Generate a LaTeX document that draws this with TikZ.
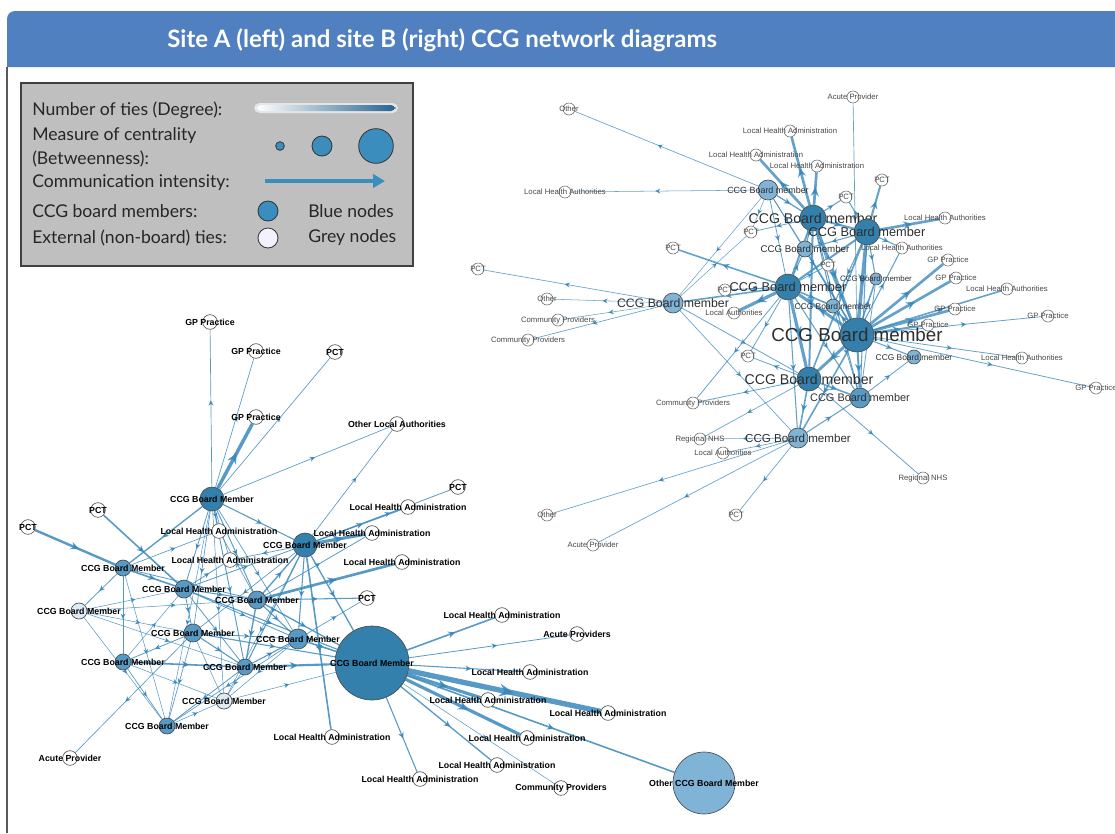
\documentclass[tikz,border=0pt]{standalone}
\usepackage{fontspec}
\setmainfont{Lato}
\setsansfont{Liberation Sans}
\usetikzlibrary{arrows.meta,decorations.markings}
\definecolor{hdr}{RGB}{80,128,192}
\definecolor{lgfill}{RGB}{191,191,191}
\definecolor{lgblue}{RGB}{58,141,189}
\definecolor{ndark}{RGB}{52,128,172}
\definecolor{nmid}{RGB}{88,154,198}
\definecolor{nlight}{RGB}{128,180,214}
\definecolor{npale}{RGB}{222,234,244}
\definecolor{ecol}{RGB}{58,136,188}
\definecolor{gbar}{RGB}{40,100,145}
\pgfdeclarelayer{edges}
\pgfsetlayers{edges,main}
\tikzset{
  ext/.style={circle, draw=black!65, fill=white, line width=0.5pt, inner sep=0pt, minimum size=11pt},
  extr/.style={circle, draw=black!55, fill=white, line width=0.45pt, inner sep=0pt, minimum size=9pt},
  ccg/.style={circle, draw=black!70, line width=0.5pt, inner sep=0pt},
  la/.style={font=\fontsize{6.6}{7}\selectfont\sffamily\bfseries, text=black},
  lr/.style={font=\fontsize{5.8}{6}\selectfont\sffamily, text=black!72},
  lbig/.style={font=\fontsize{#1}{#1}\selectfont\sffamily, text=black!82},
  edgel/.style={draw=ecol, draw opacity=0.85, postaction={decorate},
    decoration={markings, mark=at position 0.55 with {\arrow[ecol]{Stealth[length=3pt 2, width=3pt 1.6]}}}},
  edger/.style={draw=ecol, draw opacity=0.78, postaction={decorate},
    decoration={markings, mark=at position 0.55 with {\arrow[ecol]{Stealth[length=3pt 2, width=3pt 1.6]}}}},
  legtxt/.style={anchor=west, font=\fontsize{13.2}{15}\selectfont, text=black!85, inner sep=0pt},
}
\begin{document}
\begin{tikzpicture}[x=0.75pt,y=-0.75pt]
\useasboundingbox (0,0) rectangle (1115,833);
% header
\fill[hdr] (7,67) [rounded corners=6pt] -- (7,11) [sharp corners] -- (1115,11) -- (1115,67) -- cycle;
\node[anchor=west, text=white, font=\fontsize{18}{20}\selectfont\bfseries, inner sep=0pt] (title) at (167,40) {Site A (left) and site B (right) CCG network diagrams};
\draw[line width=1.5pt, black!65] (7,67) -- (7,833);
% legend
\draw[fill=lgfill, draw=black!75, line width=1.2pt] (21,83) rectangle (413,266);
\node[legtxt] (l1) at (32,110) {Number of ties (Degree):};
\node[legtxt] (l2) at (32,136) {Measure of centrality};
\node[legtxt] (l3) at (32,159) {(Betweenness):};
\node[legtxt] (l4) at (32,183) {Communication intensity:};
\node[legtxt] (l5) at (32,211) {CCG board members:};
\node[legtxt] (l6) at (32,238) {External (non-board) ties:};
\node[legtxt] (l7) at (308,211) {Blue nodes};
\node[legtxt] (l8) at (308,238) {Grey nodes};
\fill[white, opacity=0.6, rounded corners=4pt] (254,103) rectangle (398,113);
\shade[left color=white, right color=gbar, rounded corners=3pt] (257,105) rectangle (395,111);
\node[circle, fill=lgblue, draw=black!80, line width=0.6pt, inner sep=0pt, minimum size=6.5pt] (c1) at (280,146) {};
\node[circle, fill=lgblue, draw=black!80, line width=0.6pt, inner sep=0pt, minimum size=15pt] (c2) at (322,146) {};
\node[circle, fill=lgblue, draw=black!80, line width=0.6pt, inner sep=0pt, minimum size=26pt] (c3) at (376,146) {};
\coordinate (ar1) at (265,181);
\coordinate (ar2) at (385,181);
\draw[lgblue, line width=3.6pt, -{Triangle[length=9pt,width=10pt]}] (ar1) -- (ar2);
\node[circle, fill=lgblue, draw=black!80, line width=0.6pt, inner sep=0pt, minimum size=15pt] (c4) at (268,211) {};
\node[circle, fill=white!95!blue, draw=black!80, line width=0.6pt, inner sep=0pt, minimum size=15pt] (c5) at (268,238) {};

% ---------- Site A ----------
\node[ccg, fill=ndark, minimum size=18pt, label={[la]center:CCG Board Member}] (a1) at (212,499) {};
\node[ccg, fill=ndark, minimum size=18pt, label={[la]center:CCG Board Member}] (a2) at (305,545) {};
\node[ccg, fill=nmid, minimum size=12pt, label={[la]center:CCG Board Member}] (a3) at (123,568) {};
\node[ccg, fill=nmid, minimum size=13.5pt, label={[la]center:CCG Board Member}] (a4) at (184,589) {};
\node[ccg, fill=nmid, minimum size=13.5pt, label={[la]center:CCG Board Member}] (a5) at (257,600) {};
\node[ccg, fill=npale, minimum size=12pt, label={[la]center:CCG Board Member}] (a6) at (79,611) {};
\node[ccg, fill=nmid, minimum size=13.5pt, label={[la]center:CCG Board Member}] (a7) at (193,633) {};
\node[ccg, fill=nmid, minimum size=15pt, label={[la]center:CCG Board Member}] (a8) at (298,639) {};
\node[ccg, fill=ndark, minimum size=55.5pt, label={[la]center:CCG Board Member}] (a9) at (372,663) {};
\node[ccg, fill=nmid, minimum size=12pt, label={[la]center:CCG Board Member}] (a10) at (123,662) {};
\node[ccg, fill=nmid, minimum size=12pt, label={[la]center:CCG Board Member}] (a11) at (245,667) {};
\node[ccg, fill=npale, minimum size=12pt, label={[la]center:CCG Board Member}] (a12) at (224,701) {};
\node[ccg, fill=nmid, minimum size=12pt, label={[la]center:CCG Board Member}] (a13) at (167,726) {};
\node[ccg, fill=nlight, minimum size=46.5pt, label={[la]center:Other CCG Board Member}] (a14) at (704,783) {};

\node[ext, label={[la]center:GP Practice}] (e1) at (210,322) {};
\node[ext, label={[la]center:GP Practice}] (e2) at (256,351) {};
\node[ext, label={[la]center:PCT}] (e3) at (335,352) {};
\node[ext, label={[la]center:GP Practice}] (e4) at (256,417) {};
\node[ext, label={[la]center:Other Local Authorities}] (e5) at (397,424) {};
\node[ext, label={[la]center:PCT}] (e6) at (458,487) {};
\node[ext, label={[la]center:PCT}] (e7) at (98,510) {};
\node[ext, label={[la]center:Local Health Administration}] (e8) at (408,507) {};
\node[ext, label={[la]center:PCT}] (e9) at (28,527) {};
\node[ext, label={[la]center:Local Health Administration}] (e10) at (219,531) {};
\node[ext, label={[la]center:Local Health Administration}] (e11) at (372,533) {};
\node[ext, label={[la]center:Local Health Administration}] (e12) at (230,560) {};
\node[ext, label={[la]center:Local Health Administration}] (e13) at (402,562) {};
\node[ext, label={[la]center:PCT}] (e14) at (367,598) {};
\node[ext, label={[la]center:Local Health Administration}] (e15) at (502,615) {};
\node[ext, label={[la]center:Acute Providers}] (e16) at (577,634) {};
\node[ext, label={[la]center:Local Health Administration}] (e17) at (530,672) {};
\node[ext, label={[la]center:Local Health Administration}] (e18) at (488,700) {};
\node[ext, label={[la]center:Local Health Administration}] (e19) at (608,713) {};
\node[ext, label={[la]center:Local Health Administration}] (e20) at (332,737) {};
\node[ext, label={[la]center:Local Health Administration}] (e21) at (527,738) {};
\node[ext, label={[la]center:Acute Provider}] (e22) at (70,758) {};
\node[ext, label={[la]center:Local Health Administration}] (e23) at (497,765) {};
\node[ext, label={[la]center:Local Health Administration}] (e24) at (420,779) {};
\node[ext, label={[la]center:Community Providers}] (e25) at (561,788) {};

% ---------- Site B ----------
\node[ccg, fill=nlight, minimum size=15pt, label={[lbig=6.7]center:CCG Board member}] (b1) at (768,190) {};
\node[ccg, fill=ndark, minimum size=19.5pt, label={[lbig=10.6]center:CCG Board member}] (b2) at (813,218) {};
\node[ccg, fill=ndark, minimum size=19.5pt, label={[lbig=9.6]center:CCG Board member}] (b3) at (867,232) {};
\node[ccg, fill=nlight, minimum size=12pt, label={[lbig=7.3]center:CCG Board member}] (b4) at (805,249) {};
\node[ccg, fill=nlight, minimum size=9pt, label={[lbig=5.9]center:CCG Board member}] (b5) at (876,279) {};
\node[ccg, fill=ndark, minimum size=19.5pt, label={[lbig=9.6]center:CCG Board member}] (b6) at (788,287) {};
\node[ccg, fill=nlight, minimum size=15pt, label={[lbig=9.2]center:CCG Board member}] (b7) at (673,303) {};
\node[ccg, fill=nlight, minimum size=10.5pt, label={[lbig=6.3]center:CCG Board member}] (b8) at (833,306) {};
\node[ccg, fill=ndark, minimum size=25.5pt, label={[lbig=14.1]center:CCG Board member}] (b9) at (857,335) {};
\node[ccg, fill=nlight, minimum size=10.5pt, label={[lbig=6.3]center:CCG Board member}] (b10) at (914,357) {};
\node[ccg, fill=ndark, minimum size=18pt, label={[lbig=10.6]center:CCG Board member}] (b11) at (809,379) {};
\node[ccg, fill=nmid, minimum size=15pt, label={[lbig=8.2]center:CCG Board member}] (b12) at (860,398) {};
\node[ccg, fill=nlight, minimum size=15pt, label={[lbig=8.7]center:CCG Board member}] (b13) at (798,438) {};

\node[extr, label={[lr]center:Other}] (f1) at (569,109) {};
\node[extr, label={[lr]center:Acute Provider}] (f2) at (853,97) {};
\node[extr, label={[lr]center:Local Health Administration}] (f3) at (790,131) {};
\node[extr, label={[lr]center:Local Health Administration}] (f4) at (756,155) {};
\node[extr, label={[lr]center:Local Health Administration}] (f5) at (817,166) {};
\node[extr, label={[lr]center:PCT}] (f6) at (882,180) {};
\node[extr, label={[lr]center:Local Health Authorities}] (f7) at (565,192) {};
\node[extr, label={[lr]center:PCT}] (f8) at (846,197) {};
\node[extr, label={[lr]center:PCT}] (f9) at (751,232) {};
\node[extr, label={[lr]center:Local Health Authorities}] (f10) at (945,218) {};
\node[extr, label={[lr]center:Local Health Authorities}] (f11) at (902,248) {};
\node[extr, label={[lr]center:PCT}] (f12) at (673,248) {};
\node[extr, label={[lr]center:PCT}] (f13) at (828,265) {};
\node[extr, label={[lr]center:GP Practice}] (f14) at (948,260) {};
\node[extr, label={[lr]center:PCT}] (f15) at (478,269) {};
\node[extr, label={[lr]center:GP Practice}] (f16) at (956,278) {};
\node[extr, label={[lr]center:Local Health Authorities}] (f17) at (1007,289) {};
\node[extr, label={[lr]center:PCT}] (f18) at (725,290) {};
\node[extr, label={[lr]center:Other}] (f19) at (547,299) {};
\node[extr, label={[lr]center:Community Providers}] (f20) at (558,320) {};
\node[extr, label={[lr]center:Local Authorities}] (f21) at (734,313) {};
\node[extr, label={[lr]center:GP Practice}] (f22) at (955,309) {};
\node[extr, label={[lr]center:GP Practice}] (f23) at (1048,316) {};
\node[extr, label={[lr]center:GP Practice}] (f24) at (928,325) {};
\node[extr, label={[lr]center:Community Providers}] (f25) at (528,340) {};
\node[extr, label={[lr]center:PCT}] (f26) at (748,356) {};
\node[extr, label={[lr]center:Local Health Authorities}] (f27) at (1022,358) {};
\node[extr, label={[lr]center:GP Practice}] (f28) at (1096,388) {};
\node[extr, label={[lr]center:Community Providers}] (f29) at (693,403) {};
\node[extr, label={[lr]center:Regional NHS}] (f30) at (700,439) {};
\node[extr, label={[lr]center:Local Authorities}] (f31) at (723,453) {};
\node[extr, label={[lr]center:Regional NHS}] (f32) at (923,478) {};
\node[extr, label={[lr]center:Other}] (f33) at (547,515) {};
\node[extr, label={[lr]center:PCT}] (f34) at (736,515) {};
\node[extr, label={[lr]center:Acute Provider}] (f35) at (593,545) {};

\begin{pgfonlayer}{edges}
\foreach \s/\t/\w in {a1/e1/0.5, a1/e2/0.5, a1/e4/2.6, a1/e3/0.5, a1/e5/0.5, a1/a3/1.0, a1/a4/0.6, a1/a5/0.7, a1/a7/0.5, a1/a11/0.7, a1/a2/0.8, a1/e10/0.5, a1/e12/0.5, a1/a8/0.5, a1/a12/0.4, a1/a13/0.4,
 e7/a4/1.2, e9/a3/1.8, a3/a4/1.2, a3/a6/0.6, a3/a10/0.5, a3/a5/0.6, a3/a13/0.4, a3/e10/0.5, a6/a4/0.4, a6/a7/0.4, a6/a11/0.4, a6/a13/0.4, a6/a5/0.4,
 a4/a5/0.8, a4/a7/0.6, a4/a11/0.6, a4/a8/0.6, a4/a2/0.6, a4/e12/0.6, a4/a9/0.8,
 a5/e13/2.0, a5/e14/0.8, a5/a2/1.0, a5/a11/1.0, a5/a8/0.8, a5/a9/1.0, a5/e10/0.5, a5/e11/0.6,
 a2/e11/2.4, a2/e8/1.0, a2/e6/0.6, a2/e5/0.5, a2/e20/1.2, a2/a9/1.0, a2/a8/0.8, a2/a7/0.5, a2/a11/0.8, a2/e12/0.5, a2/a12/0.4,
 a7/a10/0.6, a7/a11/0.8, a7/a8/0.6, a7/a9/0.8, a7/a13/0.5, a7/a12/0.4, a7/e22/0.5,
 a10/a11/1.2, a10/a13/0.5, a10/a12/0.4, a10/a4/0.4, a11/a9/1.6, a11/a8/0.8, a11/a13/0.6, a11/a12/0.4,
 a8/a9/1.2, a8/e14/0.5, a8/a12/0.4, a8/a13/0.5, a13/a12/0.4, a12/a9/0.4,
 a9/e15/1.2, a9/e16/0.6, a9/e17/0.8, a9/e18/2.4, a9/e19/4.0, a9/e21/2.4, a9/e23/1.0, a9/e25/0.4, a9/e24/0.8, a9/a14/1.2}
 {\draw[edgel, line width=\w pt] (\s) -- (\t);}
\foreach \s/\t/\w in {b1/f1/0.5, b1/f7/0.4, b1/b2/1.0, b1/b6/0.6, b1/b7/0.4, b1/b9/0.6, b1/b4/0.5, b1/f9/0.4,
 b2/f3/2.0, b2/f4/2.0, b2/f5/2.0, b2/f8/0.8, b2/b3/1.5, b2/b6/1.5, b2/b9/2.2, b2/b11/1.5, b2/b4/0.8, b2/f9/0.6, b2/b8/0.8, b2/f13/0.6, b2/b12/0.8,
 b3/f6/1.5, b3/f10/2.0, b3/f11/0.8, b3/b9/2.6, b3/b6/1.5, b3/f8/0.8, b3/b11/1.2, b3/b5/0.8, b3/b12/0.8, b3/b8/0.8, b3/b4/0.8,
 f2/b9/0.5,
 b9/f14/2.0, b9/f16/2.0, b9/f22/2.0, b9/f24/1.5, b9/f17/1.2, b9/f23/0.6, b9/f28/0.6, b9/f27/0.6, b9/b10/0.8, b9/b6/2.2, b9/b11/2.2, b9/b12/1.5, b9/b5/1.2, b9/b8/1.2, b9/b4/1.2, b9/f13/0.8, b9/b13/1.2, b9/f11/0.8,
 b6/f12/1.2, b6/f21/2.4, b6/f18/0.8, b6/b7/1.2, b6/b11/2.4, b6/b8/1.2, b6/b4/0.8, b6/f26/0.6, b6/b13/0.8, b6/b12/0.8, b6/f13/0.6, b6/f29/0.6,
 b7/f15/0.5, b7/f19/0.4, b7/f20/0.4, b7/f25/0.5, b7/b11/0.6, b7/b13/0.5, b7/f9/0.4,
 b11/f29/0.6, b11/f32/0.6, b11/b13/1.2, b11/b12/1.2, b11/f26/0.6, b11/f30/0.5,
 b13/f33/0.5, b13/f35/0.5, b13/f34/0.5, b13/f31/0.5, b13/f30/0.4, b13/b12/0.8, b12/b10/0.6, b8/b12/0.6, b5/b12/0.6}
 {\draw[edger, line width=\w pt] (\s) -- (\t);}
\end{pgfonlayer}
\end{tikzpicture}
\end{document}
